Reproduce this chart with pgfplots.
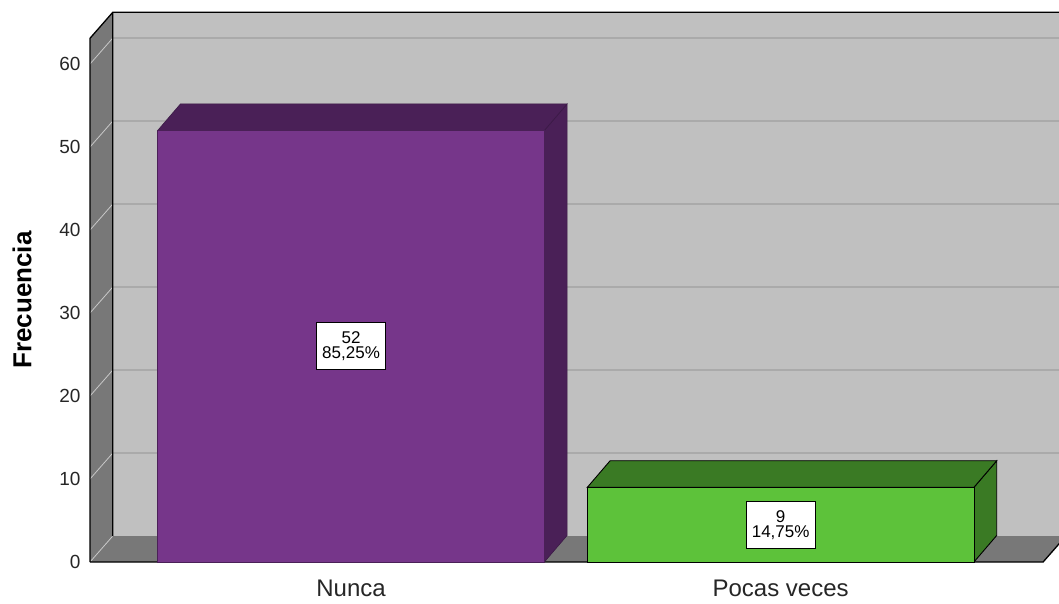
\documentclass[border=0pt]{standalone}
\usepackage{fontspec}
\setmainfont{Liberation Sans}
\usepackage{pgfplots}
\pgfplotsset{compat=1.18}
\definecolor{wall}{HTML}{C0C0C0}
\definecolor{side}{HTML}{787878}
\definecolor{gridback}{HTML}{AAAAAA}
\definecolor{gridside}{HTML}{C8C8C8}
\definecolor{purF}{RGB}{118,54,138}
\definecolor{purD}{RGB}{74,32,87}
\definecolor{grnF}{RGB}{93,194,58}
\definecolor{grnD}{RGB}{58,122,36}
\begin{document}
\begin{tikzpicture}
\begin{axis}[
  at={(90pt,41pt)}, anchor=south west,
  scale only axis, width=969pt, height=523.7pt,
  xmin=-0.6077, xmax=1.648, ymin=0, ymax=63.1,
  clip=false,
  axis line style={draw=none},
  major tick style={draw=none},
  xtick={0,1}, xticklabels={Nunca,Pocas veces},
  ytick={0,10,...,60},
  /pgf/number format/assume math mode=true,
  yticklabel style={font=\fontsize{19}{22}\selectfont, text=black!85, xshift=-6pt},
  xticklabel style={font=\fontsize{24}{28}\selectfont, text=black!85, yshift=-14pt},
  ylabel={Frecuencia},
  ylabel style={font=\fontsize{26}{30}\selectfont\bfseries, at={(axis description cs:-0.07,0.5)}, anchor=center, rotate=0},
  unbounded coords=jump,
]
% back wall
\addplot[fill=wall, draw=none] coordinates {(-0.5547,3.13) (1.70,3.13) (1.70,66.23) (-0.5547,66.23)} -- cycle;
% back wall grid lines
\addplot[gridback, line width=1.2pt] coordinates {
 (-0.5547,13.13) (1.70,13.13) (0,nan)
 (-0.5547,23.13) (1.70,23.13) (0,nan)
 (-0.5547,33.13) (1.70,33.13) (0,nan)
 (-0.5547,43.13) (1.70,43.13) (0,nan)
 (-0.5547,53.13) (1.70,53.13) (0,nan)
 (-0.5547,63.13) (1.70,63.13)};
% left wall
\addplot[fill=side, draw=none] coordinates {(-0.6077,0) (-0.6077,63.1) (-0.5547,66.23) (-0.5547,3.13)} -- cycle;
% floor
\addplot[fill=side, draw=none] coordinates {(-0.6077,0) (-0.5547,3.13) (1.664,3.13) (1.611,0)} -- cycle;
% side wall grid lines
\addplot[gridside, line width=0.8pt] coordinates {
 (-0.6077,0) (-0.5547,3.13) (0,nan)
 (-0.6077,10) (-0.5547,13.13) (0,nan)
 (-0.6077,20) (-0.5547,23.13) (0,nan)
 (-0.6077,30) (-0.5547,33.13) (0,nan)
 (-0.6077,40) (-0.5547,43.13) (0,nan)
 (-0.6077,50) (-0.5547,53.13) (0,nan)
 (-0.6077,60) (-0.5547,63.13)};
% outlines
\addplot[black, line width=1.3pt] coordinates {
 (-0.6077,0) (-0.6077,63.1) (-0.5547,66.23) (1.70,66.23) (0,nan)
 (-0.5547,66.23) (-0.5547,3.13) (0,nan)
 (-0.6077,0) (1.611,0) (1.664,3.13)};
% Nunca bar (52)
\addplot[fill=purD, draw=purD!80!black, line width=0.6pt] coordinates {(0.45,0) (0.503,3.2) (0.503,55.2) (0.45,52)} -- cycle;
\addplot[fill=purD, draw=purD!80!black, line width=0.6pt] coordinates {(-0.45,52) (0.45,52) (0.503,55.2) (-0.397,55.2)} -- cycle;
\addplot[ybar, bar width=0.9, bar shift=0pt, fill=purF, draw=purD, line width=0.6pt] coordinates {(0,52)};
% Pocas veces bar (9)
\addplot[fill=grnD, draw=black, line width=0.9pt] coordinates {(1.45,0) (1.503,3.2) (1.503,12.2) (1.45,9)} -- cycle;
\addplot[fill=grnD, draw=black, line width=0.9pt] coordinates {(0.55,9) (1.45,9) (1.503,12.2) (0.603,12.2)} -- cycle;
\addplot[ybar, bar width=0.9, bar shift=0pt, fill=grnF, draw=black, line width=0.9pt] coordinates {(1,9)};
% labels
\addplot[draw=none, mark=none, nodes near coords, point meta=explicit symbolic,
  every node near coord/.append style={anchor=center, fill=white, draw=black, line width=0.8pt, text=black,
    align=center, font=\fontsize{17}{15}\selectfont, minimum width=69pt, minimum height=47pt, inner sep=0pt}]
  coordinates {(0,26) [{52\\85,25\%}] (1,4.5) [{9\\14,75\%}]};
\end{axis}
\pgfresetboundingbox
\path[use as bounding box] (0,0) rectangle (1059pt,603pt);
\end{tikzpicture}
\end{document}
